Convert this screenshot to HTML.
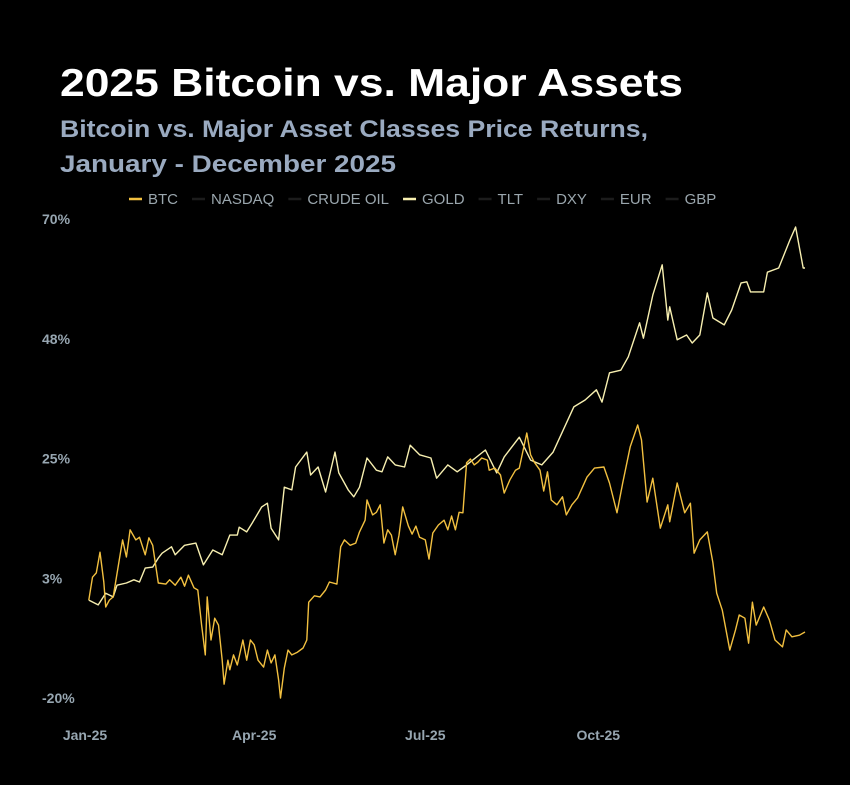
<!DOCTYPE html>
<html><head><meta charset="utf-8">
<style>
html,body{margin:0;padding:0;background:#000;}
body{width:850px;height:780px;overflow:hidden;font-family:"Liberation Sans",sans-serif;}
svg text{font-family:"Liberation Sans",sans-serif;}
</style></head>
<body>
<svg id="chart" width="850" height="780">
<rect width="850" height="780" fill="#000"/>
<text x="60" y="96" fill="#fff" font-size="39" font-weight="bold" textLength="623" lengthAdjust="spacingAndGlyphs">2025 Bitcoin vs. Major Assets</text>
<text x="60" y="137" fill="#9aaac0" font-size="24" font-weight="bold" textLength="588" lengthAdjust="spacingAndGlyphs">Bitcoin vs. Major Asset Classes Price Returns,</text>
<text x="60" y="172" fill="#9aaac0" font-size="24" font-weight="bold" textLength="336" lengthAdjust="spacingAndGlyphs">January - December 2025</text>
<g id="legend"></g>
<g id="yaxis"></g>
<g id="xaxis"></g>
<g id="series"></g>
</svg>
<script>
const yTicks=[70,47.5,25,2.5,-20];
const yTickLabels=["70%","48%","25%","3%","-20%"];
const xTickDays=[0,90,181,273];
const xTickLabels=["Jan-25","Apr-25","Jul-25","Oct-25"];
const legendNames=["BTC","NASDAQ","CRUDE OIL","GOLD","TLT","DXY","EUR","GBP"];
const legendColors=["#f2c040","#1c1c1c","#1c1c1c","#f7efb0","#1c1c1c","#1c1c1c","#1c1c1c","#1c1c1c"];
const btcDays=[2,4,6,8,10,11,13,15,18,20,22,24,27,29,32,34,36,39,43,45,48,51,53,55,58,60,62,64,65,67,69,71,73,74,76,77,79,81,84,86,88,90,92,95,97,99,101,103,104,106,108,110,113,116,118,119,122,125,128,130,134,136,138,141,144,146,149,150,153,155,157,159,161,163,165,167,169,172,174,176,178,181,183,185,188,191,193,195,197,199,201,203,205,207,209,211,214,215,218,221,223,226,229,231,235,237,239,242,244,246,248,251,254,256,259,262,267,271,276,279,283,286,290,294,296,299,302,306,310,311,315,319,322,324,327,331,334,336,339,343,346,348,351,353,355,357,361,364,367,371,373,376,380,383];
const btcValues=[-1.6,2.7,3.5,7.4,1.8,-2.9,-1.6,-1.0,5.4,9.7,6.5,11.6,9.7,10.2,6.9,10.1,8.7,1.6,1.4,2.2,1.2,2.7,1.0,3.1,0.7,0.3,-6.3,-11.9,-1.0,-9.1,-5.0,-6.3,-12.9,-17.4,-12.9,-14.7,-11.9,-13.8,-9.1,-12.9,-9.1,-10.0,-12.9,-14.2,-11.0,-13.4,-11.9,-16.6,-20.0,-14.4,-11.0,-11.9,-11.4,-10.6,-9.1,-2.0,-0.8,-1.0,0.3,1.8,1.4,8.4,9.7,8.7,9.1,11.2,13.4,17.2,14.4,14.9,16.3,9.1,11.6,10.6,6.9,10.6,15.9,12.3,10.8,12.3,10.2,9.7,6.1,11.0,12.5,13.4,11.6,14.2,11.6,14.9,14.8,24.2,24.9,23.8,24.3,25.1,24.7,22.8,23.2,21.9,18.5,21.0,22.8,23.2,29.8,25.7,24.3,22.8,18.9,22.5,17.2,16.3,17.8,14.4,16.3,17.6,21.5,23.2,23.4,20.4,14.8,20.4,27.2,31.3,28.5,16.8,21.3,11.9,16.3,13.1,20.4,14.8,16.6,7.2,9.7,11.2,5.4,-0.3,-3.5,-11.0,-7.2,-4.4,-5.0,-9.7,-2.0,-6.3,-2.9,-5.3,-9.1,-10.4,-7.2,-8.5,-8.2,-7.6];
const goldDays=[2,7,11,15,17,22,26,29,32,36,39,41,46,48,53,59,63,68,73,77,81,82,86,89,94,97,99,103,106,110,112,118,120,124,128,133,135,140,143,146,150,155,158,161,165,170,173,178,184,187,193,198,203,213,219,223,231,237,243,249,260,266,272,275,279,285,289,295,297,302,307,310,311,315,320,323,327,331,334,340,344,349,352,354,361,363,369,375,378,382,383];
const goldValues=[-1.6,-2.5,-0.3,-1.0,1.2,1.6,2.2,1.8,4.4,4.6,6.3,7.2,8.4,6.9,8.7,9.1,5.0,7.8,6.9,10.6,10.6,12.1,11.2,12.9,15.9,16.6,11.9,9.7,19.6,19.1,23.4,26.2,21.9,23.4,18.7,26.2,22.3,19.1,17.8,19.6,25.1,22.8,22.5,25.3,23.8,23.4,27.5,25.7,25.1,21.3,23.8,22.5,23.8,26.6,22.3,25.3,29.0,24.7,23.8,26.2,34.7,36.0,37.9,35.6,41.1,41.6,44.1,50.5,47.6,55.7,61.4,51.0,53.5,47.3,48.2,46.7,48.2,56.1,51.4,50.1,52.9,58.0,58.2,56.3,56.3,60.0,60.8,66.1,68.5,60.8,60.8];

const NS="http://www.w3.org/2000/svg";
function xS(d){return 85+d*1.88;}
function yS(v){return 219+(70-v)*479/90;}
function mk(tag,attrs,parent){const e=document.createElementNS(NS,tag);for(const k in attrs)e.setAttribute(k,attrs[k]);parent.appendChild(e);return e;}

const yg=document.getElementById('yaxis');
yTicks.forEach((t,i)=>{
  const e=mk('text',{x:42,y:yS(t)+5,fill:'#97a6b1','font-size':14,'font-weight':'bold'},yg);
  
  
  e.textContent=yTickLabels[i];
});
const xg=document.getElementById('xaxis');
xTickDays.forEach((d,i)=>{
  const e=mk('text',{x:xS(d),y:740,fill:'#97a6b1','font-size':14,'font-weight':'bold','text-anchor':'middle'},xg);
  
  
  e.textContent=xTickLabels[i];
});

const lg=document.getElementById('legend');
const ctx=document.createElement('canvas').getContext('2d');
ctx.font='15px "Liberation Sans"';
let lx=129;
legendNames.forEach((n,i)=>{
  const g=mk('g',{},lg);
  
  
  mk('line',{x1:lx,y1:199,x2:lx+13,y2:199,stroke:legendColors[i],'stroke-width':2.5},g);
  const t=mk('text',{x:lx+19,y:204,fill:'#9aa6ad','font-size':15},g);
  t.textContent=n;
  lx+=19+ctx.measureText(n).width+14;
});

const sg=document.getElementById('series');
function drawLine(days,vals,color,name){
  const pts=days.map((d,i)=>xS(d).toFixed(1)+','+yS(vals[i]).toFixed(1)).join(' ');
  const p=mk('polyline',{points:pts,fill:'none',stroke:color,'stroke-width':1.4,'stroke-linejoin':'round'},sg);
  
  
}
drawLine(goldDays,goldValues,'#f7efb0','gold-line');
drawLine(btcDays,btcValues,'#f2c040','btc-line');
</script>
</body></html>
